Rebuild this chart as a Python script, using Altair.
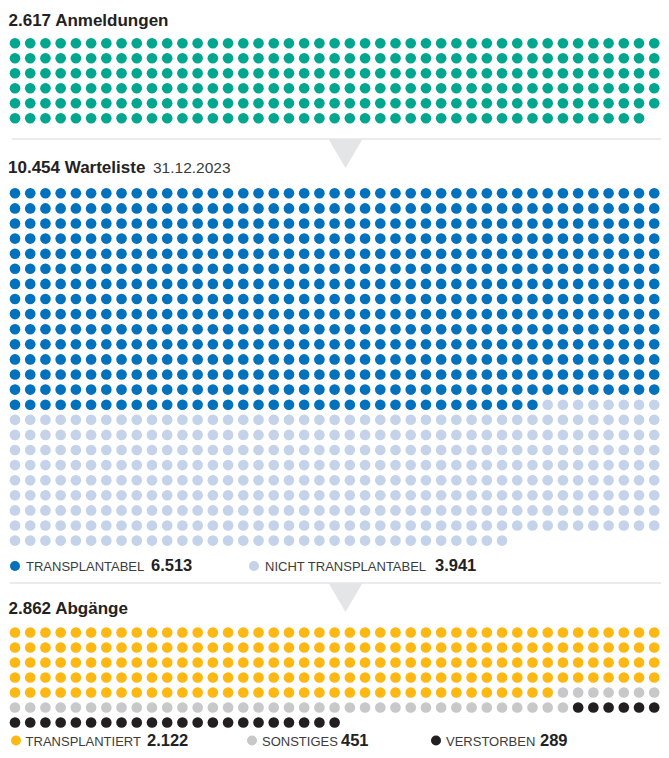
import altair as alt
import pandas as pd

# ---------------- data ----------------
PER_DOT = 10          # one dot = 10 people
COLS = 44             # dots per row

anmeldungen_labels = ["ANMELDUNGEN"]
anmeldungen_values = [2617]

warteliste_labels = ["TRANSPLANTABEL", "NICHT TRANSPLANTABEL"]
warteliste_values = [6513, 3941]
warteliste_date = "31.12.2023"

abgaenge_labels = ["TRANSPLANTIERT", "SONSTIGES", "VERSTORBEN"]
abgaenge_values = [2122, 451, 289]

# ---------------- styles / layout ----------------
anm_colors = ["#00a78e"]
wart_colors = ["#0071bc", "#c4d2ea"]
abg_colors = ["#fdb813", "#c7c8ca", "#231f20"]
FONT = "Liberation Sans"
TXT_DARK = "#222222"
TXT_LABEL = "#3c3c3c"
SEP = "#e4e5e7"

W, H = 653, 742
X_RANGE = [7, 7 + 43 * 15.22]
SECTION_TOP = {"anm": 35.3, "wart": 185.3, "abg": 624.5}
SECTION_PITCH = {"anm": 15.0, "wart": 15.1, "abg": 15.0}


def de(n):
    return f"{n:,}".replace(",", ".")


def dots(labels, values):
    rows = []
    i = 0
    for lab, v in zip(labels, values):
        for _ in range(round(v / PER_DOT)):
            rows.append({"cat": lab, "col": i % COLS, "row": i // COLS})
            i += 1
    return pd.DataFrame(rows)


def dot_layer(key, labels, values, colors):
    df = dots(labels, values)
    nrows = int(df["row"].max()) + 1
    top = SECTION_TOP[key]
    y_range = [top, top + (nrows - 1) * SECTION_PITCH[key]]
    return alt.Chart(df).mark_circle(size=113, opacity=1).encode(
        x=alt.X("col:Q", scale=alt.Scale(domain=[0, COLS - 1], range=X_RANGE, nice=False, zero=False), axis=None),
        y=alt.Y("row:Q", scale=alt.Scale(domain=[0, nrows - 1], range=y_range, nice=False, zero=False), axis=None),
        color=alt.Color("cat:N", scale=alt.Scale(domain=labels, range=colors), legend=None),
    )


one = pd.DataFrame({"d": [0]})


def txt(s, x, y, size, weight="normal", color=TXT_DARK):
    return alt.Chart(one).mark_text(
        align="left", baseline="alphabetic", fontSize=size, fontWeight=weight,
        color=color, font=FONT
    ).encode(x=alt.value(x), y=alt.value(y), text=alt.value(s))


def legend_dot(x, y, color):
    return alt.Chart(one).mark_circle(size=100, opacity=1, color=color).encode(
        x=alt.value(x), y=alt.value(y))


def sep_line(x1, x2, y):
    return alt.Chart(one).mark_rule(color=SEP, strokeWidth=1.5).encode(
        x=alt.value(x1), x2=alt.value(x2), y=alt.value(y))


TRI = "M -1 -0.853 L 1 -0.853 L 0 0.853 Z"


def triangle(x, y):
    return alt.Chart(one).mark_point(shape=TRI, size=1156, filled=True, opacity=1, color=SEP).encode(
        x=alt.value(x), y=alt.value(y))


layers = []
# section 1
layers.append(txt(f"{de(sum(anmeldungen_values))} Anmeldungen", 0.5, 18, 17, "bold"))
layers.append(dot_layer("anm", anmeldungen_labels, anmeldungen_values, anm_colors))
layers.append(sep_line(4, W, 131))
layers.append(triangle(337.5, 145.5))

# section 2
layers.append(txt(f"{de(sum(warteliste_values))} Warteliste", 0, 165.3, 17, "bold"))
layers.append(txt(warteliste_date, 145, 165.3, 15.5, "normal", "#3a3a3a"))
layers.append(dot_layer("wart", warteliste_labels, warteliste_values, wart_colors))
leg1 = [(7, 18, 143), (246, 257, 427)]
for (cx, lx, nx), lab, val, col in zip(leg1, warteliste_labels, warteliste_values, wart_colors):
    layers.append(legend_dot(cx, 558, col))
    layers.append(txt(lab, lx, 563, 13, "normal", TXT_LABEL))
    layers.append(txt(de(val), nx, 563, 16.5, "bold"))
layers.append(sep_line(2, W, 575))
layers.append(triangle(337.5, 589.5))

# section 3
layers.append(txt(f"{de(sum(abgaenge_values))} Abgänge", 0.5, 606, 17, "bold"))
layers.append(dot_layer("abg", abgaenge_labels, abgaenge_values, abg_colors))
leg2 = [(8, 17.6, 139), (244, 254, 333), (428, 438, 532)]
for (cx, lx, nx), lab, val, col in zip(leg2, abgaenge_labels, abgaenge_values, abg_colors):
    layers.append(legend_dot(cx, 732.5, col))
    layers.append(txt(lab, lx, 737.5, 13, "normal", TXT_LABEL))
    layers.append(txt(de(val), nx, 737.5, 16.5, "bold"))

chart = alt.layer(*layers).resolve_scale(
    y="independent", color="independent"
).properties(
    width=W, height=H, autosize=alt.AutoSizeParams(type="none"), padding=0
).configure(background="white").configure_view(stroke=None)

chart.save("out.html", embed_options={"renderer": "svg", "actions": False})
